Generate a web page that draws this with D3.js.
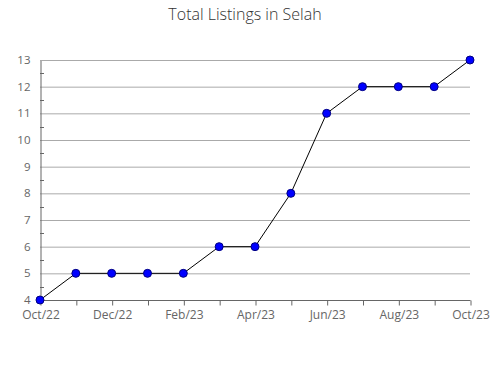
<!DOCTYPE html>
<html>
<head>
<meta charset="utf-8">
<script src="https://cdn.jsdelivr.net/npm/d3@7"></script>
<style>
  body { margin: 0; background: #fff; }
  svg { font-family: "Open Sans", sans-serif; }
</style>
</head>
<body>
<div id="chart"></div>
<script>
const months = ["Oct/22", "Nov/22", "Dec/22", "Jan/23", "Feb/23", "Mar/23", "Apr/23",
                "May/23", "Jun/23", "Jul/23", "Aug/23", "Sep/23", "Oct/23"];
const listings = [4, 5, 5, 5, 5, 6, 6, 8, 11, 12, 12, 12, 13];
const yTicks = [4, 5, 6, 7, 8, 9, 10, 11, 12, 13];
const xLabels = ["Oct/22", "Dec/22", "Feb/23", "Apr/23", "Jun/23", "Aug/23", "Oct/23"];

const width = 490, height = 380;
const margin = { top: 60, right: 20, bottom: 80, left: 40 };

const svg = d3.select("#chart").append("svg")
    .attr("width", width)
    .attr("height", height);

const x = d3.scalePoint().domain(months).range([margin.left, width - margin.right]);
const y = d3.scaleLinear().domain([4, 13]).range([height - margin.bottom, margin.top]);

// title
svg.append("text")
    .attr("x", 245)
    .attr("y", 20)
    .attr("text-anchor", "middle")
    .attr("font-size", 16)
    .attr("font-weight", 300)
    .attr("fill", "#333")
    .text("Total Listings in Selah");

// gridlines
svg.append("g")
    .selectAll("line")
    .data(yTicks.slice(1))
    .join("line")
    .attr("x1", margin.left)
    .attr("x2", width - margin.right)
    .attr("y1", d => y(d) + 0.5)
    .attr("y2", d => y(d) + 0.5)
    .attr("stroke", "#aaa")
    .attr("stroke-width", 1);

// minor ticks between integers
svg.append("g")
    .selectAll("line")
    .data(yTicks.slice(1).map(d => d - 0.5))
    .join("line")
    .attr("x1", margin.left)
    .attr("x2", margin.left + 4)
    .attr("y1", d => Math.round(y(d)) + 0.5)
    .attr("y2", d => Math.round(y(d)) + 0.5)
    .attr("stroke", "#666");

// y axis
const yAxis = svg.append("g")
    .attr("transform", `translate(${margin.left + 0.5},0.5)`)
    .call(d3.axisLeft(y).tickValues(yTicks).tickSize(0).tickPadding(10).tickFormat(d3.format("d")));
yAxis.select(".domain").attr("stroke", "#666");
yAxis.selectAll("text").attr("font-size", 11.5).attr("fill", "#666")
    .attr("font-family", "Open Sans, sans-serif").attr("dy", "0.25em");

// x axis
const xAxis = svg.append("g")
    .attr("transform", `translate(0.5,${height - margin.bottom + 0.5})`)
    .call(d3.axisBottom(x).tickSize(5).tickPadding(5).tickFormat(d => xLabels.includes(d) ? d : ""));
xAxis.select(".domain").attr("stroke", "#666").attr("d", `M${margin.left},0H${width - margin.right}`);
xAxis.selectAll("line").attr("stroke", "#666");
xAxis.selectAll("text").attr("font-size", 12).attr("fill", "#666").attr("font-family", "Open Sans, sans-serif");

// line
const data = months.map((m, i) => ({ m, v: listings[i] }));
svg.append("path")
    .datum(data)
    .attr("fill", "none")
    .attr("stroke", "#000")
    .attr("stroke-width", 1)
    .attr("d", d3.line().x(d => x(d.m)).y(d => y(d.v)));

// markers
svg.append("g")
    .selectAll("circle")
    .data(data)
    .join("circle")
    .attr("cx", d => x(d.m))
    .attr("cy", d => y(d.v))
    .attr("r", 4)
    .attr("fill", "#0000ff")
    .attr("stroke", "#000080")
    .attr("stroke-width", 1);
</script>
</body>
</html>
